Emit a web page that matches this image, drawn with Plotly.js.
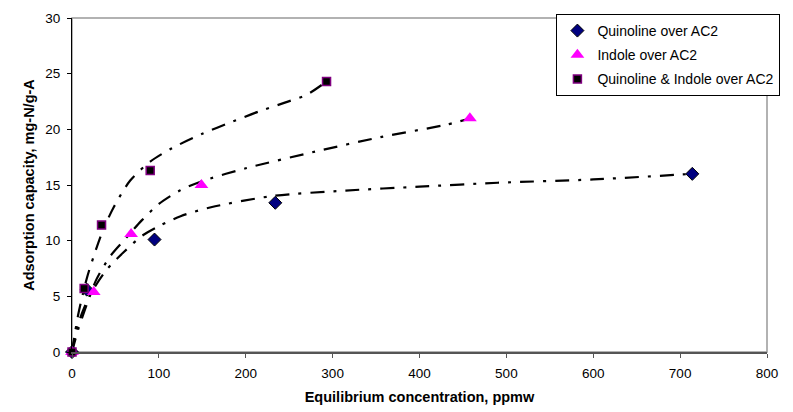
<!DOCTYPE html>
<html>
<head>
<meta charset="utf-8">
<script src="https://cdn.plot.ly/plotly-3.0.1.min.js"></script>
<style>html,body{margin:0;padding:0;background:#fff;}#chart{width:793px;height:412px;}</style>
</head>
<body>
<div id="chart"></div>
<script>
// Measured data points
const quinX = [0, 17, 95, 234, 714];
const quinY = [0, 5.6, 10.1, 13.4, 16.0];
const indX = [0, 25, 68, 149, 458];
const indY = [0, 5.4, 10.6, 15.0, 21.0];
const mixX = [0, 14, 34, 90, 293];
const mixY = [0, 5.7, 11.4, 16.3, 24.3];

// Trend curves
const quinFitX = [0, 7, 20, 40, 60, 80, 100, 125, 160, 230, 315, 400, 490, 600, 714];
const quinFitY = [0, 2.5, 5.0, 7.4, 9.0, 10.4, 11.3, 12.2, 13.0, 14.0, 14.5, 14.85, 15.2, 15.5, 16.0];
const indFitX = [0, 7, 14, 28, 44, 63, 80, 100, 124, 148, 200, 280, 355, 430, 455];
const indFitY = [0, 2.0, 3.6, 6.5, 8.6, 10.3, 11.8, 13.3, 14.5, 15.3, 16.5, 18.0, 19.3, 20.4, 20.9];
const mixFitX = [0, 7, 17, 25, 36, 48, 67, 90, 115, 150, 185, 215, 245, 270, 293];
const mixFitY = [0, 3.3, 6.6, 8.6, 11.0, 13.0, 15.4, 17.1, 18.3, 19.6, 20.7, 21.6, 22.4, 23.1, 24.3];

const names = ["Quinoline over AC2", "Indole over AC2", "Quinoline & Indole over AC2"];
const xTicks = [0, 100, 200, 300, 400, 500, 600, 700, 800];
const yTicks = [0, 5, 10, 15, 20, 25, 30];

const dash = "14px,9px,3px,9px";
function fit(x, y) {
  return {x: x, y: y, mode: "lines", type: "scatter", showlegend: false, hoverinfo: "skip",
    line: {color: "#000", width: 2.2, dash: dash, shape: "spline", smoothing: 0.8}, cliponaxis: false};
}

const traces = [
  fit(quinFitX, quinFitY),
  fit(indFitX, indFitY),
  fit(mixFitX, mixFitY),
  {x: quinX, y: quinY, name: names[0], mode: "markers", type: "scatter", legendgroup: "a", cliponaxis: false,
    marker: {symbol: "diamond", size: 10, color: "#000080", line: {color: "#000", width: 1}}},
  {x: indX, y: indY, name: names[1], mode: "markers", type: "scatter", legendgroup: "b", cliponaxis: false,
    marker: {symbol: "triangle-up", size: 12, color: "#FF00FF", line: {width: 0}}},
  {x: mixX, y: mixY, name: names[2], mode: "markers", type: "scatter", legendgroup: "c", cliponaxis: false,
    marker: {symbol: "square", size: 8, color: "#000", line: {color: "#800080", width: 1.5}}}
];

const font = "Liberation Sans, Arial, sans-serif";
const layout = {
  width: 793, height: 412,
  margin: {l: 72, r: 26, t: 18, b: 60},
  paper_bgcolor: "#fff", plot_bgcolor: "#fff",
  font: {family: font, size: 13.5, color: "#000"},
  showlegend: true,
  legend: {x: 0.697, y: 1.012, xanchor: "left", yanchor: "top", bgcolor: "#fff",
    bordercolor: "#000", borderwidth: 1, font: {family: font, size: 14, color: "#000"},
    tracegroupgap: 3, itemwidth: 30},
  xaxis: {range: [0, 800], tickvals: xTicks, ticktext: xTicks.map(String), showgrid: false, zeroline: false,
    showline: true, linecolor: "#555", linewidth: 2, ticks: "outside", ticklen: 4, tickcolor: "#555",
    ticklabelstandoff: 4,
    title: {text: "<b>Equilibrium concentration, ppmw</b>", font: {family: font, size: 14.5}, standoff: 12}},
  yaxis: {range: [0, 30], tickvals: yTicks, ticktext: yTicks.map(String), showgrid: false, zeroline: false,
    showline: true, linecolor: "#000", linewidth: 1, ticks: "outside", ticklen: 4, tickcolor: "#000",
    ticklabelstandoff: 4,
    title: {text: "<b>Adsorption capacity, mg-N/g-A</b>", font: {family: font, size: 14.5}, standoff: 7}},
  shapes: [
    {type: "rect", xref: "paper", yref: "paper", x0: 0, x1: 1, y0: 0, y1: 1, layer: "below",
      line: {color: "#999", width: 1.5}}
  ]
};

Plotly.newPlot("chart", traces, layout, {displayModeBar: false, staticPlot: true});
</script>
</body>
</html>
